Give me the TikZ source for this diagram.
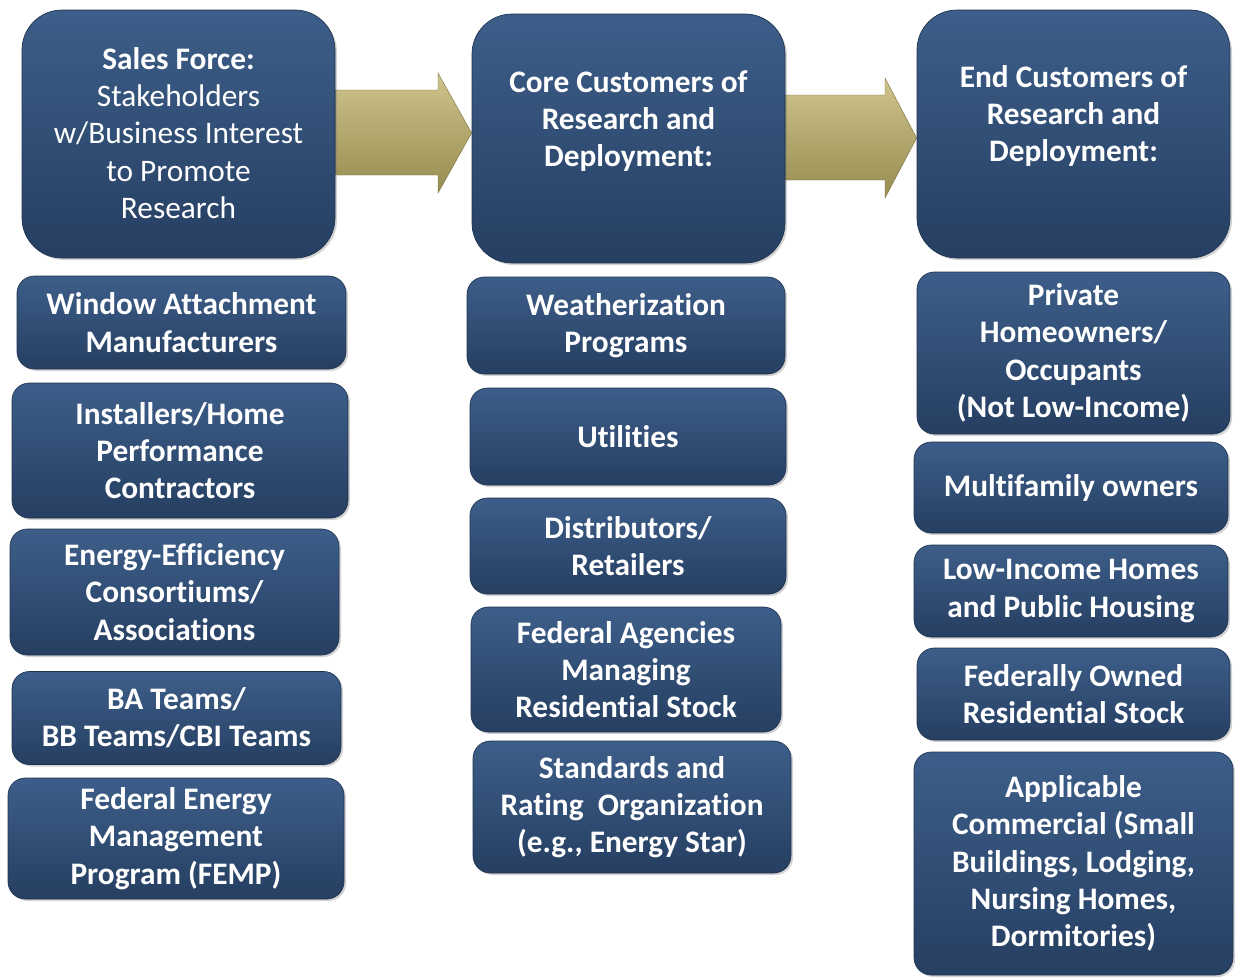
\documentclass[tikz,border=0pt]{standalone}
\usepackage{fontspec}
\setmainfont{Carlito}[Ligatures=NoCommon]
\usetikzlibrary{shadows}
\usetikzlibrary{backgrounds}

\definecolor{navyTop}{HTML}{3D5E89}
\definecolor{navyBot}{HTML}{263F62}
\definecolor{navyLine}{HTML}{1E3350}
\definecolor{oliveTop}{HTML}{CEC48D}
\definecolor{oliveBot}{HTML}{978C50}

\def\px{0.75pt}

\tikzset{
  bluebox/.style={rounded corners=13pt, top color=navyTop, bottom color=navyBot,
    draw=navyLine, line width=0.5pt,
    drop shadow={opacity=0.35, shadow xshift=1.5pt, shadow yshift=-1.5pt},
    text=white, font=\bfseries\fontsize{23.5}{28}\selectfont, align=center, inner sep=0pt},
  topbox/.style={bluebox, rounded corners=30pt},
  toptext/.style={text=white, font=\fontsize{23.5}{28}\selectfont, align=center, inner sep=0pt},
  bigarrow/.style={top color=oliveTop, bottom color=oliveBot, draw=oliveBot!80!black, line width=0.3pt},
}

\begin{document}
\begin{tikzpicture}[x=0.75pt,y=-0.75pt]
\useasboundingbox (0,0) rectangle (1235,978);

% top row
\node[topbox, minimum width=313*\px, minimum height=248*\px] (sales) at (178.5,134) {};
\node[topbox, minimum width=313*\px, minimum height=249*\px] (core) at (628.5,138.5) {};
\node[topbox, minimum width=313*\px, minimum height=248*\px] (end) at (1073.5,134) {};
\node[toptext] (salestxt) at (178.5,133) {\textbf{Sales Force:}\\Stakeholders\\w/Business Interest\\to Promote\\Research};
\node[toptext, font=\bfseries\fontsize{23.5}{28}\selectfont] (coretxt) at (628.5,121) {Core Customers of\\Research and\\Deployment:};
\node[toptext, font=\bfseries\fontsize{23.5}{28}\selectfont] (endtxt) at (1073.5,116) {End Customers of\\Research and\\Deployment:};

% left column
\node[bluebox, minimum width=329*\px, minimum height=93*\px] (win) at (181.5,322.5) {Window Attachment\\Manufacturers};
\node[bluebox, minimum width=336*\px, minimum height=135*\px] (inst) at (180,450.5) {Installers/Home\\Performance\\Contractors};
\node[bluebox, minimum width=329*\px, minimum height=126*\px] (eec) at (174.5,592) {Energy-Efficiency\\Consortiums/\\Associations};
\node[bluebox, minimum width=329*\px, minimum height=93*\px] (ba) at (176.5,718) {BA Teams/\\BB Teams/CBI Teams};
\node[bluebox, minimum width=336*\px, minimum height=121*\px] (femp) at (176,838.5) {Federal Energy\\Management\\Program (FEMP)};

% middle column
\node[bluebox, minimum width=318*\px, minimum height=97*\px] (weath) at (626,325.5) {Weatherization\\Programs};
\node[bluebox, minimum width=316*\px, minimum height=97*\px] (util) at (628,436.5) {Utilities};
\node[bluebox, minimum width=316*\px, minimum height=96*\px] (dist) at (628,546) {Distributors/\\Retailers};
\node[bluebox, minimum width=310*\px, minimum height=125*\px] (fed) at (626,669.5) {Federal Agencies\\Managing\\Residential Stock};
\node[bluebox, minimum width=318*\px, minimum height=132*\px] (std) at (632,807) {Standards and\\Rating~~Organization\\(e.g., Energy Star)};

% right column
\node[bluebox, minimum width=313*\px, minimum height=162*\px] (priv) at (1073.5,353) {Private\\Homeowners/\\Occupants\\(Not Low-Income)};
\node[bluebox, minimum width=314*\px, minimum height=91*\px] (multi) at (1071,487.5) {Multifamily owners};
\node[bluebox, minimum width=314*\px, minimum height=92*\px] (low) at (1071,591) {Low-Income Homes\\and Public Housing};
\node[bluebox, minimum width=313*\px, minimum height=92*\px] (fedown) at (1073.5,694) {Federally Owned\\Residential Stock};
\node[bluebox, minimum width=319*\px, minimum height=223*\px] (appl) at (1073.5,863.5) {Applicable\\Commercial (Small\\Buildings, Lodging,\\Nursing Homes,\\Dormitories)};

% arrows between the top boxes
\begin{scope}[on background layer]
\draw[bigarrow] (sales.east |- 0,90) -- (438,90) -- (438,73) -- (core.west |- 0,133)
  -- (438,193) -- (438,175) -- (sales.east |- 0,175) -- cycle;
\draw[bigarrow] (core.east |- 0,95) -- (885,95) -- (885,78) -- (end.west |- 0,138)
  -- (885,198) -- (885,180) -- (core.east |- 0,180) -- cycle;
\end{scope}
\end{tikzpicture}
\end{document}
